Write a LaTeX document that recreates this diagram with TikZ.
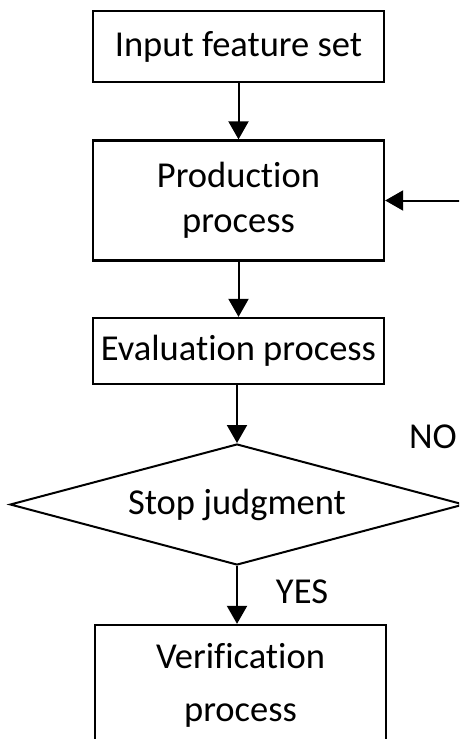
\documentclass[tikz,border=0pt]{standalone}
\usepackage{fontspec}
\setmainfont{Carlito}[RawFeature={-liga;-calt;-dlig;-clig}]
\usetikzlibrary{arrows.meta,shapes.geometric}

\tikzset{
  procbox/.style={rectangle, draw, line width=2.3pt, minimum width=291pt, inner sep=0pt, align=center},
  judgebox/.style={diamond, draw, line width=2pt, minimum width=454pt, minimum height=121pt, inner sep=0pt, aspect=3.75},
  flow/.style={line width=2pt, -{Triangle[length=18pt,width=20pt]}},
  txt/.style={font=\fontsize{36.5}{45}\selectfont}
}

\begin{document}
\begin{tikzpicture}[x=1pt, y=-1pt]
			\useasboundingbox (0,0) rectangle (459,739);
			\clip (0,0) rectangle (459,739);

			% Nodes
			\node[procbox, txt, minimum height=71pt] (inp) at (238.5, 46.5) {Input feature set};
			\node[procbox, txt, minimum height=120pt] (prod) at (238.5, 200.5) {Production\\process};
			\node[procbox, txt, minimum height=66pt] (eval) at (238.5, 351) {Evaluation process};
			\node[judgebox, txt] (judge) at (237, 504.5) {Stop judgment};
			\node[procbox, txt, minimum height=120pt] (verif) at (240.5, 685) {Verification\\[8pt]process};

			% Labels
			\node[txt] (no) at (433, 437) {NO};
			\node[txt] (yes) at (302, 592) {YES};

			% Arrows
			\draw[flow] (inp) -- (prod);
			\draw[flow] (prod) -- (eval);
			\draw[flow] (eval.south -| judge.north) -- (judge.north);
			\draw[flow] (judge.south) -- (judge.south |- verif.north);
			\draw[flow] (judge.east) -- ++(30,0) |- (prod.east);
		\end{tikzpicture}
\end{document}
